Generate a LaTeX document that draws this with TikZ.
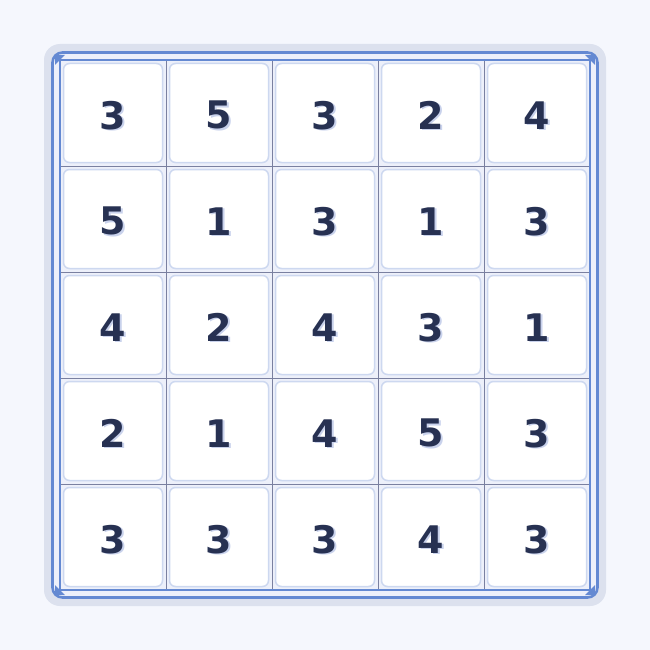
\documentclass[tikz,border=0pt]{standalone}
\usepackage{fontspec}
\setmainfont{DejaVu Sans}
\definecolor{bgc}{HTML}{F5F7FD}
\definecolor{framec}{HTML}{DCE1EE}
\definecolor{bandc}{HTML}{EDF0FA}
\definecolor{bluec}{HTML}{6489D2}
\definecolor{gridc}{HTML}{7A80A0}
\definecolor{cellb}{HTML}{CDD8F0}
\definecolor{numc}{HTML}{273152}
\definecolor{shadc}{HTML}{C9D2EC}
\newcommand{\shnum}[1]{\makebox[0pt][l]{\hspace{1.3pt}\raisebox{-1.3pt}{\textcolor{shadc}{#1}}}#1}
\tikzset{
  cellbox/.style={draw=cellb,line width=1.5pt,fill=white,rounded corners=6pt},
  numtxt/.style={font=\fontsize{38}{40}\selectfont\bfseries,text=numc,inner sep=0pt},
  gridline/.style={draw=gridc,line width=0.9pt},
  blueline/.style={draw=bluec,line width=2.6pt},
}
\begin{document}
\begin{tikzpicture}[x=1pt,y=-1pt]
\fill[bgc] (0,0) rectangle (650,650);
\useasboundingbox (0,0) rectangle (650,650);
% outer frame
\fill[framec,rounded corners=16pt] (44,44) rectangle (606,606);
\fill[bandc,rounded corners=10pt] (52.5,52.5) rectangle (597.5,597.5);
\draw[blueline,rounded corners=10pt] (52.5,52.5) rectangle (597.5,597.5);
% grid lines
\foreach \i in {1,2,3,4}{
  \draw[gridline] (60+106*\i,60) -- (60+106*\i,590);
  \draw[gridline] (60,60+106*\i) -- (590,60+106*\i);
}
% cells
\foreach \r [count=\ri from 0] in {{3,5,3,2,4},{5,1,3,1,3},{4,2,4,3,1},{2,1,4,5,3},{3,3,3,4,3}}{
  \foreach \v [count=\ci from 0] in \r {
    \pgfmathsetmacro{\cx}{113+106*\ci}
    \pgfmathsetmacro{\cy}{113+106*\ri}
    \node[cellbox,minimum width=99pt,minimum height=99pt,inner sep=0pt] (cell-\ri-\ci) at (\cx,\cy) {};
    \node[numtxt] (num-\ri-\ci) at ([yshift=-3pt]cell-\ri-\ci.center) {\shnum{\v}};
  }
}
% inner border
\draw[bluec,line width=2pt] (60,60) rectangle (590,590);
% corner markers
\fill[bluec] (55,55) -- (65,55) -- (55,65) -- cycle;
\fill[bluec] (595,55) -- (585,55) -- (595,65) -- cycle;
\fill[bluec] (55,595) -- (65,595) -- (55,585) -- cycle;
\fill[bluec] (595,595) -- (585,595) -- (595,585) -- cycle;
\end{tikzpicture}
\end{document}
